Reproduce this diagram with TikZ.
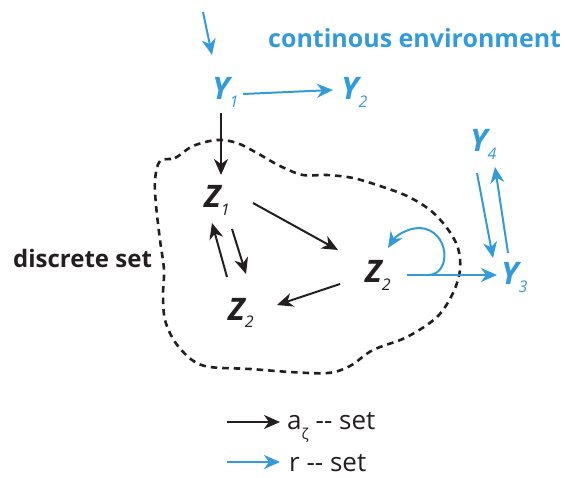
\documentclass[tikz,border=0pt]{standalone}
\usepackage{fontspec}
\setmainfont{Open Sans}
\usetikzlibrary{arrows.meta}
\definecolor{envblue}{RGB}{52,155,218}
\definecolor{ink}{RGB}{35,31,32}
% subscript index placed below the baseline of a state letter
\newcommand\idx[1]{\raisebox{-8pt}{\fontsize{16}{16}\selectfont\mdseries\itshape #1}}
\begin{document}
\begin{tikzpicture}[x=1pt,y=-1pt,
  state/.style={inner sep=0pt, anchor=base west,
    font=\fontsize{31}{31}\selectfont\bfseries\itshape},
  ystate/.style={state, text=envblue},
  zstate/.style={state, text=ink},
  tipshape/.style={-{Stealth[length=16pt,width=14pt,inset=5pt]}},
  aarrow/.style={tipshape, draw=ink, line width=2pt},
  rarrow/.style={tipshape, draw=envblue, line width=2pt},
  blob/.style={draw=ink, line width=2.6pt, dash pattern=on 6.5pt off 5pt},
  label/.style={inner sep=0pt, anchor=base west}]
\useasboundingbox (0,0) rectangle (565,478);

% dashed boundary of the discrete set
\draw[blob] plot[smooth cycle, tension=0.55] coordinates {
  (160,161) (175,158) (193,146) (217,140) (237,143) (257,153) (280,166)
  (303,175) (327,175) (353,178) (380,186) (407,196) (430,210) (447,228)
  (458,248) (460,270) (453,293) (437,317) (407,337) (373,350) (350,366)
  (328,373) (290,372) (250,369) (210,367) (192,360) (175,342) (165,320)
  (163,295) (164,270) (160,240) (156,205) (155,180)};

% states
\node[ystate] (Y1) at (212,100) {Y\idx{1}};
\node[ystate] (Y2) at (341,100) {Y\idx{2}};
\node[ystate] (Y3) at (501,285) {Y\idx{3}};
\node[ystate] (Y4) at (470,152) {Y\idx{4}};
\node[zstate] (Z1) at (204,208) {Z\idx{1}};
\node[zstate] (Z2r) at (365,283) {Z\idx{2}};
\node[zstate] (Z2l) at (228,320) {Z\idx{2}};

% labels
\node[label, text=envblue, font=\fontsize{25}{25}\selectfont\bfseries] (env) at (268,48) {continous environment};
\node[label, text=ink, font=\fontsize{24}{24}\selectfont\bfseries] (disc) at (13,268) {discrete set};

% incoming r-arrow
\coordinate (in) at (203,12);
\draw[rarrow] (in) -- ([shift={(0,-45)}]Y1.base west);

% r-arrows
\draw[rarrow] ([shift={(31,-6)}]Y1.base west) -- ([shift={(-8,-10)}]Y2.base west);
\draw[rarrow] ([shift={(42,-8)}]Z2r.base west) -- ([shift={(-4,-10)}]Y3.base west);
\draw[rarrow] ([shift={(63,-8)}]Z2r.base west)
  .. controls ([shift={(87,-8)}]Z2r.base west) and ([shift={(85,-53)}]Z2r.base west)
  .. ([shift={(55,-55)}]Z2r.base west)
  .. controls ([shift={(41,-55)}]Z2r.base west) and ([shift={(30,-46)}]Z2r.base west)
  .. ([shift={(23,-35)}]Z2r.base west);
\draw[rarrow] ([shift={(7,21)}]Y4.base west) -- ([shift={(-8,-27)}]Y3.base west);
\draw[rarrow] ([shift={(7,-32)}]Y3.base west) -- ([shift={(25,15)}]Y4.base west);

% a-arrows
\draw[aarrow] ([shift={(9,13)}]Y1.base west) -- ([shift={(17,-33)}]Z1.base west);
\draw[aarrow] ([shift={(49,-5)}]Z1.base west) -- ([shift={(-27,-33)}]Z2r.base west);
\draw[aarrow] ([shift={(-25,1)}]Z2r.base west) -- ([shift={(49,-15)}]Z2l.base west);
\draw[aarrow] ([shift={(-1,-43)}]Z2l.base west) -- ([shift={(8,15)}]Z1.base west);
\draw[aarrow] ([shift={(28,21)}]Z1.base west) -- ([shift={(18,-46)}]Z2l.base west);

% legend
\node[label, text=ink, font=\fontsize{26}{26}\selectfont] (lega) at (287,429)
  {a\raisebox{-10pt}{\fontsize{15}{15}\selectfont ζ} -{}- set};
\node[label, text=ink, font=\fontsize{26}{26}\selectfont] (legr) at (289,471) {r -{}- set};
\coordinate (la) at (227,422);
\coordinate (lr) at (227,462);
\draw[aarrow] (la) -- ([shift={(-7,-7)}]lega.base west);
\draw[rarrow] (lr) -- ([shift={(-9,-9)}]legr.base west);
\end{tikzpicture}
\end{document}
